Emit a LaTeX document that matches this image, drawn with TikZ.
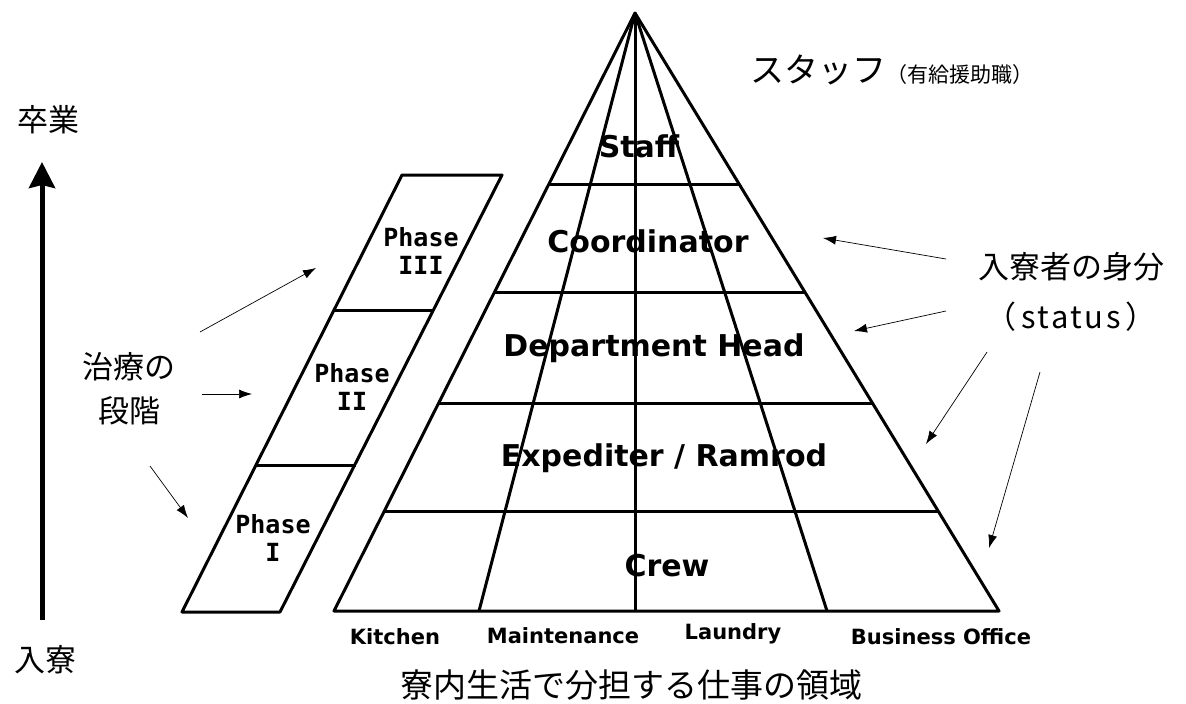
\documentclass[tikz,border=0pt]{standalone}
\usepackage{fontspec}
\usetikzlibrary{arrows.meta,calc}
\newfontfamily\jp{Noto Sans CJK JP}
\newfontfamily\labfont{DejaVu Sans}
\newfontfamily\monofont{DejaVu Sans Mono}
\begin{document}
\begin{tikzpicture}[x=1pt,y=-1pt,
  pyr/.style={line width=3pt, line join=round},
  thinarrow/.style={line width=0.7pt, -{Latex[length=13pt,width=9pt]}},
  biglab/.style={font=\labfont\bfseries\fontsize{30}{32}\selectfont, inner sep=0pt},
  footlab/.style={font=\labfont\bfseries\fontsize{21}{24}\selectfont, inner sep=0pt},
  phaselab/.style={font=\monofont\bfseries\fontsize{25}{28}\selectfont, align=center, inner sep=0pt},
  jplab/.style={font=\jp\fontsize{31}{44}\selectfont, align=center, inner sep=0pt}
]
\useasboundingbox (0,0) rectangle (1186,704);

% ---------- pyramid ----------
\coordinate (A) at (635,13);
\coordinate (BL) at (334,611);
\coordinate (BR) at (999,611);
\coordinate (B1) at (479,611);
\coordinate (B2) at (635,611);
\coordinate (B3) at (827,611);
\draw[pyr] (BL) -- (A) -- (BR) -- cycle;
\draw[pyr] (A) -- (B1);
\draw[pyr] (A) -- (B2);
\draw[pyr] (A) -- (B3);
\foreach \t in {0.2876,0.4682,0.6522,0.8328}
  \draw[pyr] ($(A)!\t!(BL)$) -- ($(A)!\t!(BR)$);

\node[biglab] (staff) at (639,146) {Staff};
\node[biglab] (coord) at (648,241) {Coordinator};
\node[biglab] (dept) at (654,348) {Department Head};
\node[biglab] (exp) at (664,458) {Expediter / Ramrod};
\node[biglab] (crew) at (667,566) {Crew};

\node[footlab] (kitchen) at (395,637) {Kitchen};
\node[footlab] (maint) at (563,636) {Maintenance};
\node[footlab] (laundry) at (733,634) {Laundry};
\node[footlab] (biz) at (941,637) {Business Office};

% ---------- phases ----------
\draw[pyr] (402,175) -- (502,175) -- (280,612) -- (182,612) -- cycle;
\draw[pyr] (334,310) -- (434,310);
\draw[pyr] (256,465) -- (356,465);
\node[phaselab] (ph3) at (421,251) {Phase\\III};
\node[phaselab] (ph2) at (352,387) {Phase\\II};
\node[phaselab] (ph1) at (273,538) {Phase\\I};

% ---------- left axis ----------
\coordinate (ax0) at (42,620);
\coordinate (ax1) at (42,162);
\draw[line width=5pt, -{Stealth[length=26pt,width=26pt,inset=3pt]}] (ax0) -- (ax1);
\node[jplab] (grad) at (48,120) {卒業};
\node[jplab] (entry) at (45,660) {入寮};

% ---------- treatment stages ----------
\node[jplab] (stage) at (129,389) {治療の\\段階};
\coordinate (p1s) at (200,332); \coordinate (p1e) at (316,268);
\coordinate (p2s) at (202,394); \coordinate (p2e) at (252,394);
\coordinate (p3s) at (150,466); \coordinate (p3e) at (188,518);
\draw[thinarrow] (p1s) -- (p1e);
\draw[thinarrow] (p2s) -- (p2e);
\draw[thinarrow] (p3s) -- (p3e);

% ---------- staff label ----------
\node[anchor=west, inner sep=0pt] (stafflab) at (750,70)
  {\jp\fontsize{34}{40}\selectfont スタッフ\fontsize{21}{24}\selectfont （有給援助職）};

% ---------- status ----------
\node[jplab, font=\jp\fontsize{31}{50}\selectfont] (status) at (1071,292)
  {入寮者の身分\\（{\addfontfeatures{LetterSpace=8}\,status\,}）};
\coordinate (s1s) at (946,259); \coordinate (s1e) at (823,238);
\coordinate (s2s) at (946,311); \coordinate (s2e) at (854,331);
\coordinate (s3s) at (987,352); \coordinate (s3e) at (926,444);
\coordinate (s4s) at (1040,372); \coordinate (s4e) at (989,548);
\draw[thinarrow] (s1s) -- (s1e);
\draw[thinarrow] (s2s) -- (s2e);
\draw[thinarrow] (s3s) -- (s3e);
\draw[thinarrow] (s4s) -- (s4e);

% ---------- bottom caption ----------
\node[inner sep=0pt, font=\jp\fontsize{33}{36}\selectfont] (caption) at (631,685) {寮内生活で分担する仕事の領域};
\end{tikzpicture}
\end{document}
